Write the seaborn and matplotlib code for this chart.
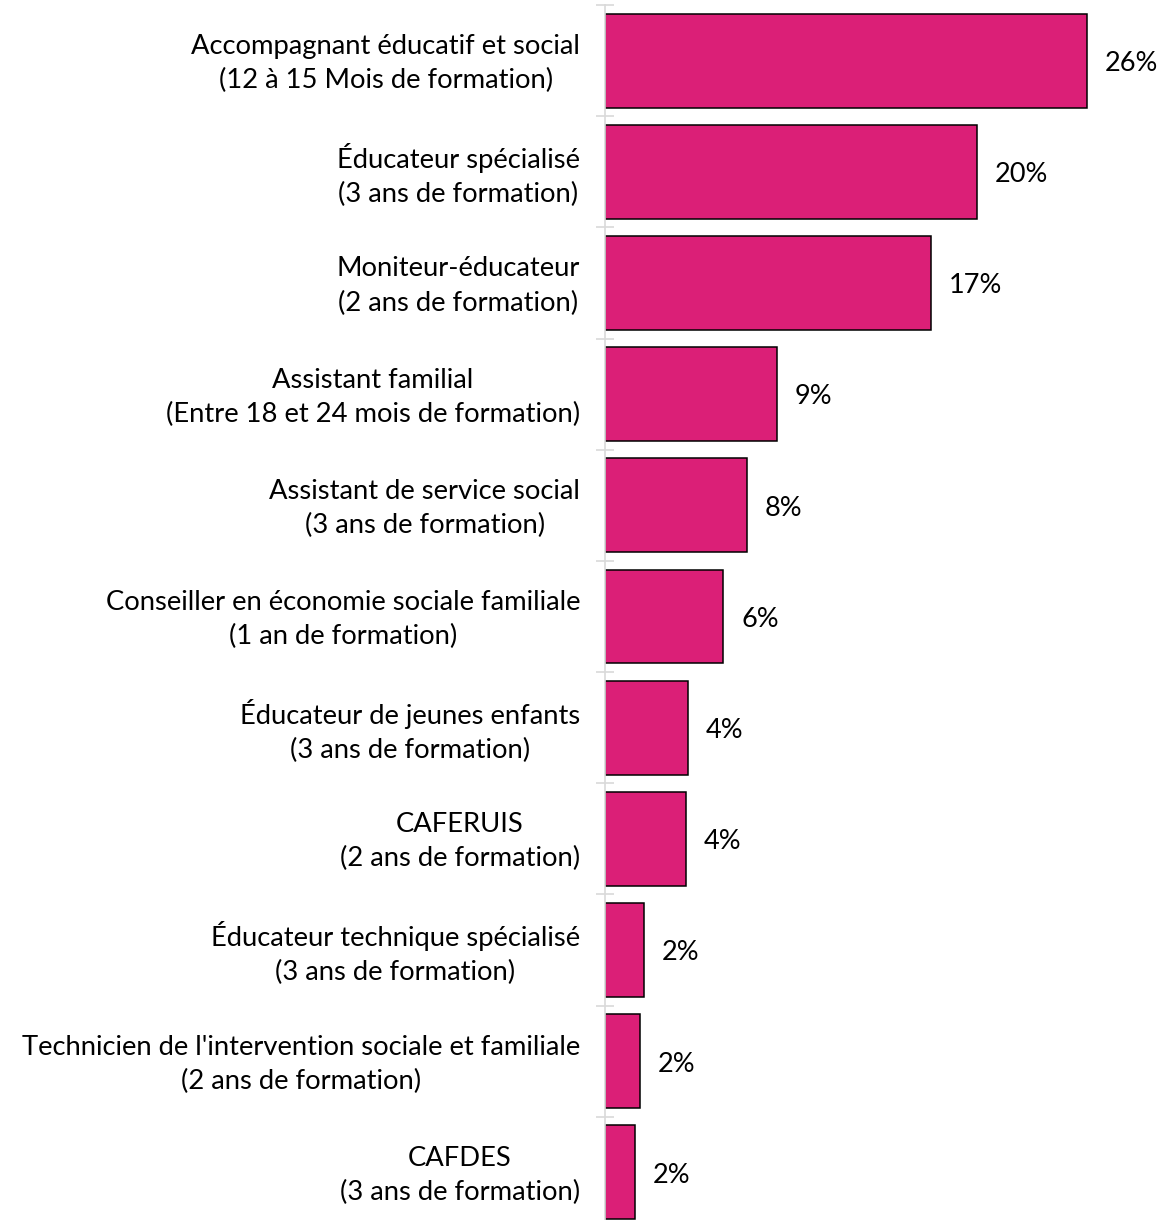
import matplotlib
matplotlib.use("Agg")
import matplotlib.pyplot as plt
import matplotlib.transforms as mtransforms
import seaborn as sns
import pandas as pd
import numpy as np

# Diplômes du travail social et part de chaque formation
formations = [
    "Accompagnant éducatif et social\n(12 à 15 Mois de formation)",
    "Éducateur spécialisé\n(3 ans de formation)",
    "Moniteur-éducateur\n(2 ans de formation)",
    "Assistant familial\n(Entre 18 et 24 mois de formation)",
    "Assistant de service social\n(3 ans de formation)",
    "Conseiller en économie sociale familiale\n(1 an de formation)",
    "Éducateur de jeunes enfants\n(3 ans de formation)",
    "CAFERUIS\n(2 ans de formation)",
    "Éducateur technique spécialisé\n(3 ans de formation)",
    "Technicien de l'intervention sociale et familiale\n(2 ans de formation)",
    "CAFDES\n(3 ans de formation)",
]
parts = [25.7, 19.84, 17.39, 9.17, 7.57, 6.29, 4.43, 4.32, 2.08, 1.87, 1.60]

df = pd.DataFrame({"formation": formations, "part": parts})

sns.set_theme(style="white")
plt.rcParams["font.family"] = ["Lato", "DejaVu Sans"]

W, H = 1161, 1220
fig = plt.figure(figsize=(W / 100, H / 100), dpi=100)
ax = fig.add_axes([605 / W, (H - 1228) / H, 544 / W, 1223 / H])

sns.barplot(data=df, y="formation", x="part", orient="h", ax=ax,
            color="#DB1F77", saturation=1, width=0.845,
            edgecolor="black", linewidth=1.1)

ax.set_xlim(0, 29)
ax.set_ylim(len(formations) - 0.5, -0.5)
ax.set_xlabel("")
ax.set_ylabel("")
ax.set_xticks([])

# étiquettes de valeur arrondies
for cont in ax.containers:
    anns = ax.bar_label(cont, labels=[f"{v:.0f}%" for v in cont.datavalues],
                        padding=13, fontsize=19.5, color="black")
    for a in anns:
        a.xyann = (13, -2)

# axe vertical gris avec graduations entre les catégories
for s in ["top", "right", "bottom"]:
    ax.spines[s].set_visible(False)
ax.spines["left"].set_color("#D9D9D9")
ax.spines["left"].set_linewidth(1.2)
ax.set_yticks(np.arange(len(formations) + 1) - 0.5, minor=True)
ax.tick_params(axis="y", which="minor", direction="inout", length=13,
               width=1.2, color="#D9D9D9", left=True)
ax.tick_params(axis="y", which="major", length=0, pad=18, labelsize=19.7,
               labelcolor="black")
shift = mtransforms.ScaledTranslation(0, 4 / 100, fig.dpi_scale_trans)
for tick in ax.yaxis.get_major_ticks():
    lab = tick.label1
    lab.set_multialignment("center")
    lab.set_linespacing(1.45)
    lab.set_transform(lab.get_transform() + shift)

fig.savefig("out.png", dpi=100)
